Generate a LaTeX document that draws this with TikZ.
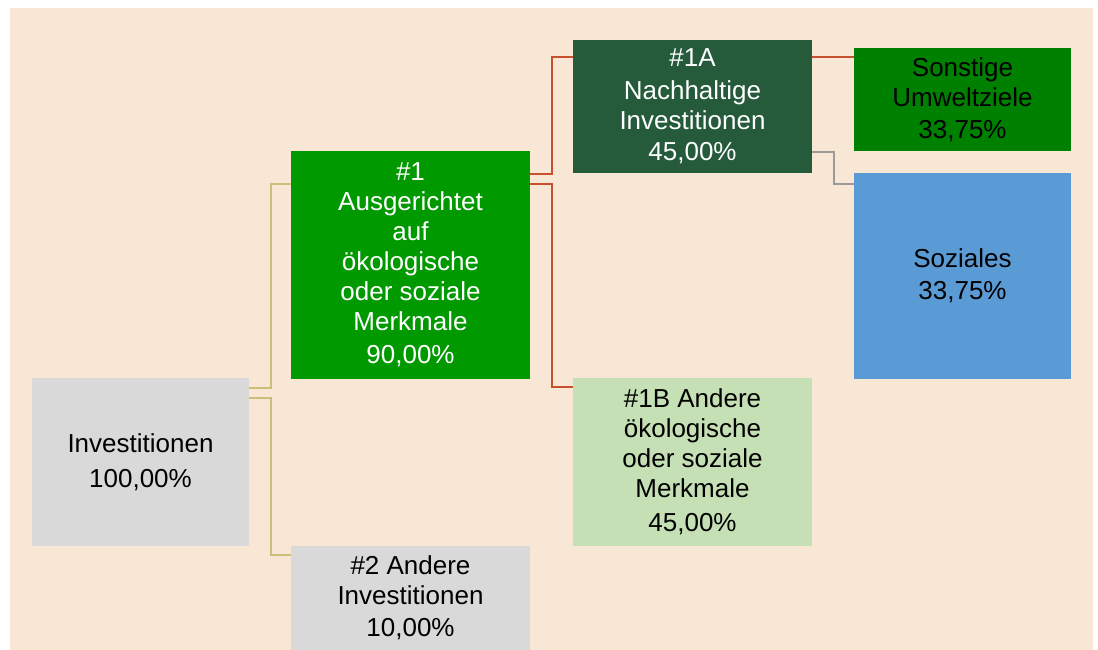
\documentclass[tikz,border=0pt]{standalone}
\usepackage{fontspec}
\setmainfont{Liberation Sans}
\usepackage{tikz}
\usetikzlibrary{calc}
\definecolor{peach}{HTML}{F9E7D5}
\definecolor{boxgray}{HTML}{D9D9D9}
\definecolor{brightgreen}{HTML}{009900}
\definecolor{darkgreen}{HTML}{255A3B}
\definecolor{midgreen}{HTML}{008000}
\definecolor{lightgreen}{HTML}{C5E0B4}
\definecolor{skyblue}{HTML}{5B9BD5}
\definecolor{tanline}{HTML}{CBC07A}
\definecolor{redline}{HTML}{C9502E}
\definecolor{grayline}{HTML}{9A9A9A}
\begin{document}
\begin{tikzpicture}[x=1pt,y=-1pt,
  category/.style={rectangle,inner sep=0pt,align=center,
    font=\fontsize{26}{30}\selectfont},
  tanlink/.style={draw=tanline,line width=2pt},
  redlink/.style={draw=redline,line width=2pt},
  graylink/.style={draw=grayline,line width=2pt}]
\useasboundingbox (0,0) rectangle (1098,650);
\fill[peach] (10,8) rectangle (1093,650);
\node[category,fill=boxgray,minimum width=217pt,minimum height=168pt] (inv) at (140.5,462) {Investitionen\\[5pt]100,00\%};
\node[category,fill=brightgreen,text=white,minimum width=239pt,minimum height=228pt] (char) at (410.5,265) {\#1\\Ausgerichtet\\auf\\ökologische\\oder soziale\\Merkmale\\[3pt]90,00\%};
\node[category,fill=boxgray,minimum width=239pt,minimum height=104pt] (other) at (410.5,598) {\#2 Andere\\Investitionen\\[2pt]10,00\%};
\node[category,fill=darkgreen,text=white,minimum width=239pt,minimum height=133pt] (sust) at (692.5,106.5) {\#1A\\[3pt]Nachhaltige\\Investitionen\\[1pt]45,00\%};
\node[category,fill=lightgreen,minimum width=239pt,minimum height=168pt] (otherchar) at (692.5,462) {\#1B Andere\\ökologische\\oder soziale\\Merkmale\\[4pt]45,00\%};
\node[category,fill=midgreen,minimum width=217pt,minimum height=103pt] (env) at (962.5,99.5) {Sonstige\\Umweltziele\\[2pt]33,75\%};
\node[category,fill=skyblue,minimum width=217pt,minimum height=206pt] (social) at (962.5,276) {Soziales\\[2pt]33,75\%};
\draw[tanlink] ($(inv.north east)+(0,10)$) -- ++(22,0) |- ($(char.north west)+(0,33)$);
\draw[tanlink] ($(inv.north east)+(0,20)$) -- ++(22,0) |- ($(other.north west)+(0,9)$);
\draw[redlink] ($(char.north east)+(0,23)$) -- ++(22,0) |- ($(sust.north west)+(0,17)$);
\draw[redlink] ($(char.north east)+(0,33)$) -- ++(22,0) |- ($(otherchar.north west)+(0,9)$);
\draw[redlink] ($(sust.north east)+(0,17)$) -- ($(env.north west)+(0,9)$);
\draw[graylink] ($(sust.north east)+(0,112)$) -- ++(22,0) |- ($(social.north west)+(0,11)$);
\end{tikzpicture}
\end{document}
